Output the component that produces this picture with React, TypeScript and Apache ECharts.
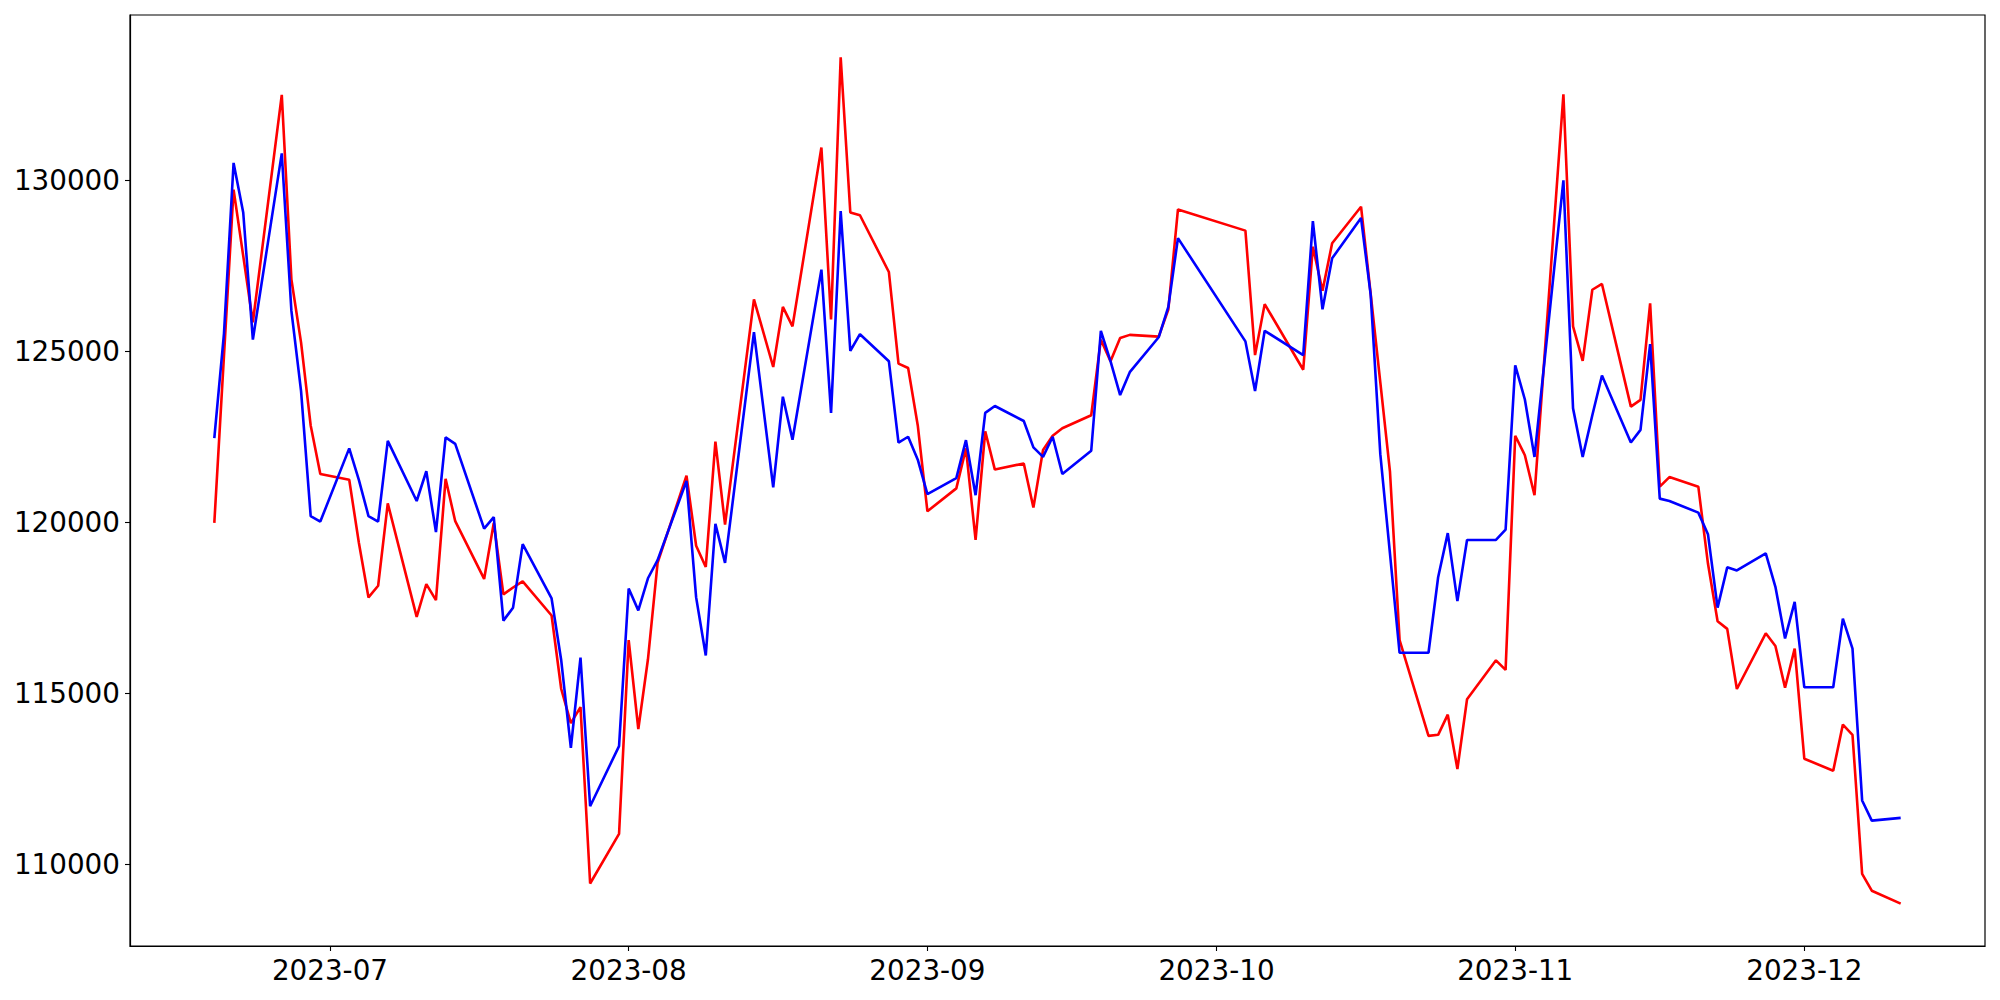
import React, { useEffect, useRef } from "react";
import * as echarts from "echarts";

const dates: string[] = [
  "2023-06-19", "2023-06-20", "2023-06-21", "2023-06-22", "2023-06-23",
  "2023-06-26", "2023-06-27", "2023-06-28", "2023-06-29", "2023-06-30",
  "2023-07-03", "2023-07-04", "2023-07-05", "2023-07-06", "2023-07-07",
  "2023-07-10", "2023-07-11", "2023-07-12", "2023-07-13", "2023-07-14",
  "2023-07-17", "2023-07-18", "2023-07-19", "2023-07-20", "2023-07-21",
  "2023-07-24", "2023-07-25", "2023-07-26", "2023-07-27", "2023-07-28",
  "2023-07-31", "2023-08-01", "2023-08-02", "2023-08-03", "2023-08-04",
  "2023-08-07", "2023-08-08", "2023-08-09", "2023-08-10", "2023-08-11",
  "2023-08-14", "2023-08-16", "2023-08-17", "2023-08-18",
  "2023-08-21", "2023-08-22", "2023-08-23", "2023-08-24", "2023-08-25",
  "2023-08-28", "2023-08-29", "2023-08-30", "2023-08-31", "2023-09-01",
  "2023-09-04", "2023-09-05", "2023-09-06", "2023-09-07", "2023-09-08",
  "2023-09-11", "2023-09-12", "2023-09-13", "2023-09-14", "2023-09-15",
  "2023-09-18", "2023-09-19", "2023-09-20", "2023-09-21", "2023-09-22",
  "2023-09-25", "2023-09-26", "2023-09-27",
  "2023-10-04", "2023-10-05", "2023-10-06",
  "2023-10-10", "2023-10-11", "2023-10-12", "2023-10-13",
  "2023-10-16", "2023-10-17", "2023-10-18", "2023-10-19", "2023-10-20",
  "2023-10-23", "2023-10-24", "2023-10-25", "2023-10-26", "2023-10-27",
  "2023-10-30", "2023-10-31", "2023-11-01", "2023-11-02", "2023-11-03",
  "2023-11-06", "2023-11-07", "2023-11-08", "2023-11-09", "2023-11-10",
  "2023-11-13", "2023-11-14", "2023-11-15", "2023-11-16", "2023-11-17",
  "2023-11-20", "2023-11-21", "2023-11-22", "2023-11-23", "2023-11-24",
  "2023-11-27", "2023-11-28", "2023-11-29", "2023-11-30", "2023-12-01",
  "2023-12-04", "2023-12-05", "2023-12-06", "2023-12-07", "2023-12-08",
  "2023-12-11",
];

const redValues: number[] = [
  119990, 124870, 129740, 127800, 125860,
  132510, 127110, 125270, 122840, 121420,
  121250, 119410, 117810, 118150, 120560,
  117240, 118200, 117730, 121280, 120040,
  118350, 119990, 117900, 118100, 118280,
  117280, 115130, 114130, 114600, 109440,
  110890, 116560, 113960, 116000, 118820,
  121370, 119320, 118700, 122370, 119940,
  126530, 124550, 126310, 125740,
  130970, 125940, 133610, 129070, 128990,
  127330, 124650, 124520, 122840, 120330,
  121000, 122170, 119490, 122670, 121550,
  121730, 120440, 122120, 122540, 122760,
  123140, 125350, 124720, 125400, 125490,
  125440, 126230, 129160,
  128540, 124900, 126390,
  124470, 128070, 126780, 128170,
  129240, 126690, 124100, 121500, 116560,
  113760, 113790, 114380, 112790, 114830,
  115970, 115690, 122540, 121970, 120800,
  132530, 125740, 124730, 126810, 126980,
  123390, 123590, 126410, 121050, 121330,
  121050, 118800, 117110, 116890, 115130,
  116760, 116390, 115170, 116310, 113090,
  112740, 114090, 113790, 109720, 109230,
  108850,
];

const blueValues: number[] = [
  122470, 125520, 130520, 129070, 125350,
  130800, 126190, 123850, 120190, 120030,
  122170, 121250, 120190, 120030, 122390,
  120630, 121500, 119720, 122490, 122300,
  119820, 120160, 117130, 117510, 119370,
  117780, 115970, 113410, 116050, 111700,
  113460, 118070, 117430, 118370, 118900,
  121220, 117810, 116110, 119960, 118820,
  125570, 121030, 123680, 122420,
  127400, 123210, 129110, 125020, 125510,
  124720, 122340, 122510, 121840, 120830,
  121300, 122410, 120800, 123210, 123410,
  122970, 122200, 121920, 122510, 121420,
  122100, 125610, 124720, 123730, 124400,
  125420, 126310, 128320,
  125300, 123850, 125610,
  124900, 128820, 126240, 127730,
  128910, 126660, 122000, 119100, 116190,
  116190, 118400, 119690, 117700, 119490,
  119490, 119790, 124600, 123600, 121920,
  130010, 123340, 121920, 123140, 124300,
  122340, 122710, 125220, 120700, 120630,
  120290, 119660, 117510, 118690, 118600,
  119100, 118120, 116610, 117680, 115180,
  115180, 117190, 116310, 111870, 111280,
  111360,
];

const monthTicks: string[] = ["2023-07-01", "2023-08-01", "2023-09-01", "2023-10-01", "2023-11-01", "2023-12-01"];
const yTicks: number[] = [110000, 115000, 120000, 125000, 130000];

function toTs(s: string): number {
  const [y, m, d] = s.split("-").map(Number);
  return Date.UTC(y, m - 1, d);
}

export default function App() {
  const ref = useRef<HTMLDivElement>(null);

  useEffect(() => {
    if (!ref.current) return;
    const chart = echarts.init(ref.current, null, { renderer: "svg" });

    const ts = dates.map(toTs);
    const tMin = Math.min(...ts);
    const tMax = Math.max(...ts);
    const tPad = (tMax - tMin) * 0.05;
    const all = redValues.concat(blueValues);
    const vMin = Math.min(...all);
    const vMax = Math.max(...all);
    const vPad = (vMax - vMin) * 0.05;

    const font = "DejaVu Sans";
    const fs = 27.8;
    const xTickVals = monthTicks.map(toTs);

    chart.setOption({
      animation: false,
      backgroundColor: "#ffffff",
      grid: {
        left: 130,
        right: 15,
        top: 15,
        bottom: 54,
        show: true,
        borderColor: "#000000",
        borderWidth: 1.2,
        backgroundColor: "transparent",
      },
      xAxis: {
        type: "value",
        min: tMin - tPad,
        max: tMax + tPad,
        scale: true,
        splitLine: { show: false },
        axisLine: { show: true, onZero: false, lineStyle: { color: "#000000", width: 1.2 } },
        axisTick: {
          show: true,
          customValues: xTickVals,
          length: 5,
          lineStyle: { color: "#000000", width: 1.1 },
        },
        axisLabel: {
          customValues: xTickVals,
          formatter: (v: number) => {
            const d = new Date(v);
            const m = d.getUTCMonth() + 1;
            return d.getUTCFullYear() + "-" + (m < 10 ? "0" + m : String(m));
          },
          color: "#000000",
          fontSize: fs,
          fontFamily: font,
          margin: 10,
        },
      },
      yAxis: {
        type: "value",
        min: vMin - vPad,
        max: vMax + vPad,
        scale: true,
        splitLine: { show: false },
        axisLine: { show: true, onZero: false, lineStyle: { color: "#000000", width: 1.2 } },
        axisTick: {
          show: true,
          customValues: yTicks,
          length: 5,
          lineStyle: { color: "#000000", width: 1.1 },
        },
        axisLabel: {
          customValues: yTicks,
          formatter: (v: number) => String(v),
          color: "#000000",
          fontSize: fs,
          fontFamily: font,
          margin: 10,
        },
      },
      series: [
        {
          type: "line",
          name: "red",
          data: ts.map((t, i) => [t, redValues[i]]),
          showSymbol: false,
          lineStyle: { color: "#ff0000", width: 2.6 },
          itemStyle: { color: "#ff0000" },
        },
        {
          type: "line",
          name: "blue",
          data: ts.map((t, i) => [t, blueValues[i]]),
          showSymbol: false,
          lineStyle: { color: "#0000ff", width: 2.6 },
          itemStyle: { color: "#0000ff" },
        },
      ],
    });

    return () => chart.dispose();
  }, []);

  return (
    <div
      ref={ref}
      style={{ position: "fixed", left: 0, top: 0, width: 2000, height: 1000, background: "#ffffff" }}
    />
  );
}
